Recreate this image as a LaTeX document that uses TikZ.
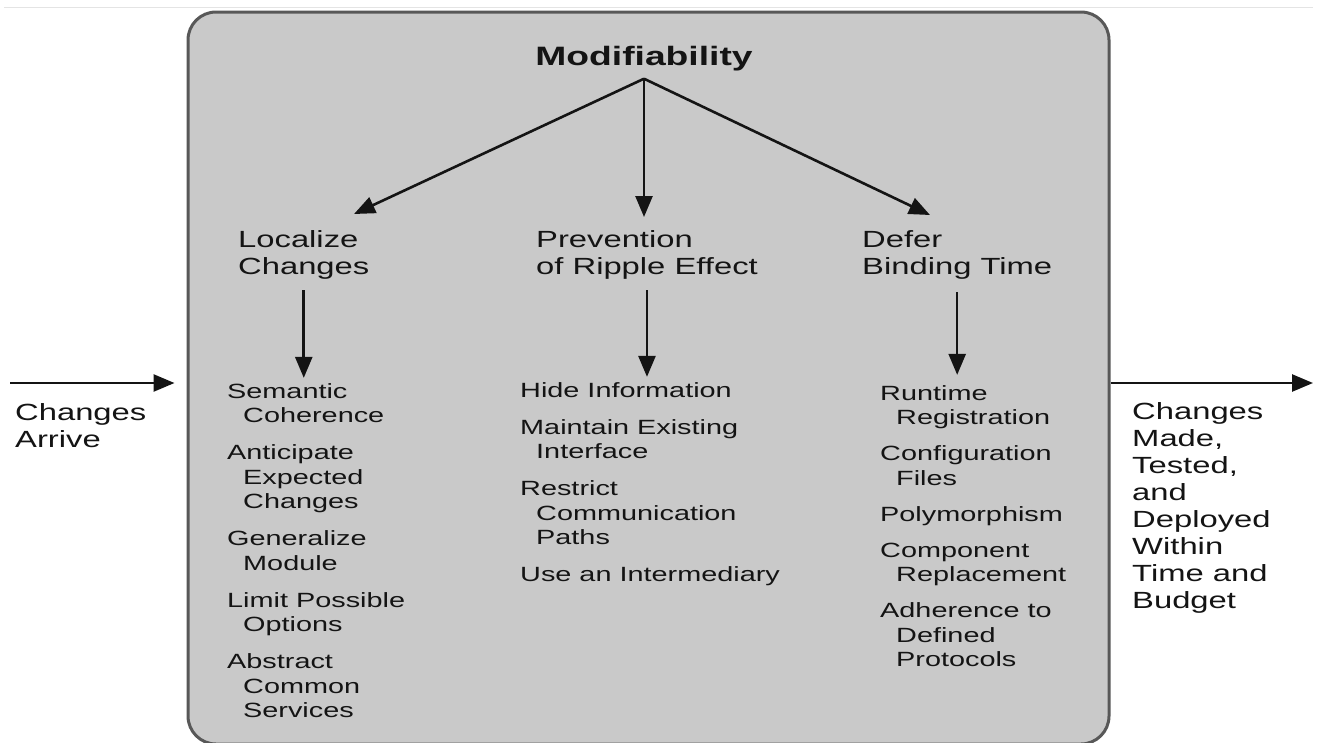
\documentclass[tikz,border=0pt]{standalone}
\usepackage{fontspec}
\setmainfont{Liberation Sans}[FakeStretch=1.4]
\usetikzlibrary{arrows.meta,calc}
\definecolor{panel}{RGB}{201,201,201}
\definecolor{paneledge}{RGB}{88,88,88}
\definecolor{rule}{RGB}{228,228,228}
\definecolor{ink}{RGB}{20,20,20}
\newcommand\contline{\hspace*{16pt}}
\begin{document}
\begin{tikzpicture}[x=1pt,y=-1pt,
  arr/.style={draw=ink,line width=2.6pt,-{Triangle[length=21pt,width=17pt]}},
  tactic/.style={anchor=base west,inner sep=0pt,align=left,text=ink,
    font=\fontsize{20.6}{24.5}\selectfont},
  heading/.style={anchor=base west,inner sep=0pt,align=left,text=ink,
    font=\fontsize{23.4}{27}\selectfont},
  titlestyle/.style={anchor=base,inner sep=0pt,text=ink,
    font=\fontsize{26.6}{30}\selectfont\bfseries}]
\useasboundingbox (0,0) rectangle (1317,742);
\fill[white] (0,0) rectangle (1317,742);
\begin{scope}
\clip (0,0) rectangle (1317,742);
% thin rule along the top
\draw[rule,line width=1pt] (4,7) -- (1313,7);
% grey panel holding the tactics
\node[draw=paneledge,fill=panel,line width=3pt,rounded corners=28pt,
  inner sep=0pt,minimum width=921pt,minimum height=732pt] (box) at (648.5,378) {};
\end{scope}

% title and the three tactic groups (multi-line nodes sit on their last baseline)
\node[titlestyle] (title) at (644,65) {Modifiability};
\node[heading] (loc) at (238,274) {Localize\\Changes};
\node[heading] (prev) at (536,274) {Prevention\\of Ripple Effect};
\node[heading] (defer) at (862,274) {Defer\\Binding Time};

% tactic lists
\node[tactic] (lc) at (227,717.5) {Semantic\\\contline Coherence\\[12.5pt]%
Anticipate\\\contline Expected\\\contline Changes\\[12.5pt]%
Generalize\\\contline Module\\[12.5pt]%
Limit Possible\\\contline Options\\[12.5pt]%
Abstract\\\contline Common\\\contline Services};
\node[tactic] (pc) at (520,581.5) {Hide Information\\[12.5pt]%
Maintain Existing\\\contline Interface\\[12.5pt]%
Restrict\\\contline Communication\\\contline Paths\\[12.5pt]%
Use an Intermediary};
\node[tactic] (dc) at (880,666.5) {Runtime\\\contline Registration\\[11.5pt]%
Configuration\\\contline Files\\[11.5pt]%
Polymorphism\\[11.5pt]%
Component\\\contline Replacement\\[11.5pt]%
Adherence to\\\contline Defined\\\contline Protocols};

% stimulus and response
\node[heading] (arrive) at (15,447) {Changes\\Arrive};
\node[heading] (done) at (1132,608) {Changes\\Made,\\Tested,\\and\\Deployed\\Within\\Time and\\Budget};

% arrow end points
\coordinate (tl) at (354,214);
\coordinate (tm) at (644,217);
\coordinate (tr) at (930,215);
\coordinate (inA) at (10,383);
\coordinate (outA) at (1313,383);

% arrows from the quality attribute to the tactic groups
\draw[arr] ([yshift=-8pt]title.south) -- (tl);
\draw[arr] ([yshift=-8pt]title.south) -- (tm);
\draw[arr] ([yshift=-8pt]title.south) -- (tr);

% arrows from each group to its tactics
\draw[arr] ([yshift=-11pt]loc.south) -- ($(loc.south |- lc.north)+(0,-5)$);
\draw[arr] ([yshift=-11pt]prev.south) -- ($(prev.south |- pc.north)+(0,-5)$);
\draw[arr] ([yshift=-13pt]defer.south) -- ($(defer.south |- dc.north)+(0,-10)$);

% incoming and outgoing arrows
\draw[arr] (inA) -- ($(box.west |- inA)+(-12,0)$);
\draw[arr] (box.east |- outA) -- (outA);
\end{tikzpicture}
\end{document}
